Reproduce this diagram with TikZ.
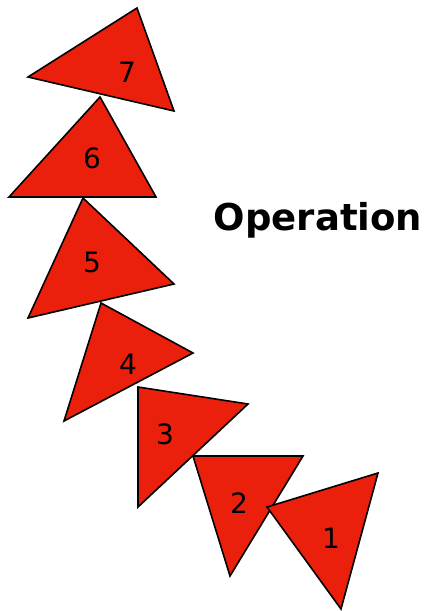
\documentclass[tikz,border=0pt]{standalone}
\usepackage{fontspec}
\setmainfont{DejaVu Sans}
\definecolor{trired}{RGB}{234,32,12}
\begin{document}
\begin{tikzpicture}[x=1pt,y=-1pt,
  tri/.style={fill=trired,draw=black,line width=1.6pt,line join=miter},
  num/.style={font=\fontsize{28}{30}\selectfont,inner sep=0pt},
  title/.style={font=\bfseries\fontsize{37}{40}\selectfont,inner sep=0pt,anchor=base}]
\useasboundingbox (0,0) rectangle (429,611);
% triangles
\draw[tri] (137,8) -- (28,77) -- (174,111) -- cycle;
\draw[tri] (100,97) -- (9,197) -- (156,197) -- cycle;
\draw[tri] (83,198) -- (174,284) -- (28,318) -- cycle;
\draw[tri] (101,303) -- (193,353) -- (64,421) -- cycle;
\draw[tri] (138,387) -- (248,404) -- (138,507) -- cycle;
\draw[tri] (193,456) -- (303,456) -- (230,576) -- cycle;
\draw[tri] (267,507) -- (378,473) -- (341,609) -- cycle;
% labels
\node[num] (n7) at (127,72) {7};
\node[num] (n6) at (92,158) {6};
\node[num] (n5) at (92,262) {5};
\node[num] (n4) at (128,364) {4};
\node[num] (n3) at (165,434) {3};
\node[num] (n2) at (239,503) {2};
\node[num] (n1) at (331,538) {1};
\node[title] (op) at (318,230) {Operation};
\end{tikzpicture}
\end{document}
